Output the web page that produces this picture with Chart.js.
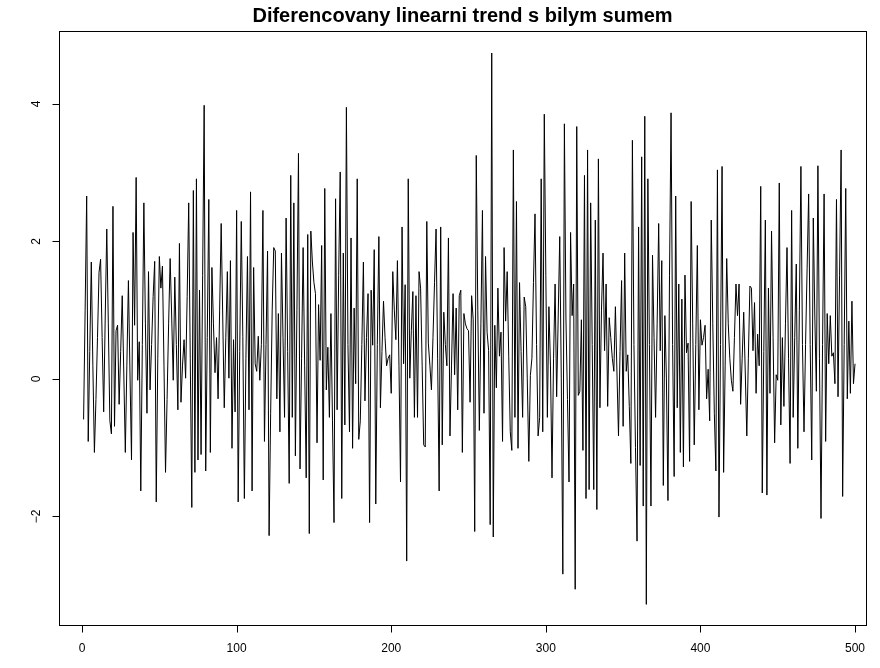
<!DOCTYPE html>
<html>
<head>
<meta charset="utf-8">
<script src="https://cdn.jsdelivr.net/npm/chart.js@4.4.0/dist/chart.umd.min.js"></script>
<style>
  html, body { margin: 0; padding: 0; background: #fff; }
  canvas { display: block; }
</style>
</head>
<body>
<canvas id="chart" width="880" height="668"></canvas>
<script>
"use strict";

const title = "Diferencovany linearni trend s bilym sumem";
const xTicks = [0, 100, 200, 300, 400, 500];
const yTicks = [-2, 0, 2, 4];

// series, in blocks of 50 points
const s001 = [-0.59, 1.0, 2.66, -0.91, 0.4, 1.70, 0.2, -1.07, -0.3, 0.6,
  1.55, 1.74, 0.6, -0.48, 0.9, 2.18, 0.8, -0.61, -0.80, 2.51,
  -0.69, 0.70, 0.78, -0.37, 0.4, 1.21, 0.1, -1.07, 0.2, 1.43,
  0.1, -1.18, 2.13, 0.78, 2.93, -0.02, 0.54, -1.63, 0.5, 2.56,
  0.8, -0.50, 1.56, -0.16, 0.5, 1.2, 1.71, -1.79, 0.3, 1.78];
const s051 = [1.32, 1.64, 0.2, -1.36, -0.3, 0.8, 1.75, 0.9, -0.02, 1.48,
  0.5, -0.45, 1.97, -0.34, 0.2, 0.57, 0.01, 1.2, 2.56, 0.3,
  -1.87, 2.74, -1.36, 2.91, -1.18, 1.29, -1.10, 1.5, 3.98, -1.34,
  0.6, 2.61, -1.07, 1.62, 0.8, 0.09, 0.60, -0.29, 1.0, 2.26,
  0.9, -0.42, 0.6, 1.56, 0.01, 1.72, -1.01, 0.57, -0.48, 2.45];
const s101 = [-1.79, 0.4, 2.29, 0.62, -1.74, 0.3, 1.78, -0.45, 2.72, -1.63,
  1.62, 0.22, 0.11, 0.62, -0.02, 0.5, 2.45, -0.91, 0.5, 1.86,
  -2.28, -0.5, 1.0, 1.91, 1.86, -0.29, 0.95, -0.77, 1.83, 0.6,
  -0.56, 2.34, 0.4, -1.52, 2.96, -0.56, 2.56, -1.12, 1.0, 3.28,
  -1.31, 0.3, 1.91, 0.2, -1.44, 2.10, -2.25, 2.15, 1.7, 1.4];
const s151 = [1.24, -0.93, 1.08, 0.27, 1.94, -1.47, 2.77, -0.16, 0.46, -0.56,
  0.95, -0.6, -2.09, 2.62, -0.45, 1.5, 3.01, -1.74, 1.83, -0.67,
  3.95, 0.5, -0.77, 2.05, -1.01, 1.03, -0.07, 2.91, -0.88, -0.61,
  0.5, 1.70, -0.32, 0.6, 1.24, -2.09, 1.29, 0.49, 1.88, -1.82,
  0.5, 2.07, -0.42, 0.4, 1.13, 0.6, 0.19, 0.3, 0.35, -0.21];
const s201 = [1.56, 1.0, 0.57, 1.72, 0.2, -1.50, 2.21, 0.22, 1.37, -2.65,
  2.91, 0.01, 0.7, 1.27, -0.56, 1.21, -0.56, 1.56, 1.32, 0.2,
  -0.96, -0.99, 2.29, 0.52, 0.2, -0.16, 0.6, 1.4, 2.18, 0.3,
  -1.63, 2.21, -0.96, 0.97, 0.5, 0.19, 2.05, -0.83, 0.2, 1.24,
  0.06, 1.03, -0.45, 1.21, 1.29, -1.07, 0.95, 0.8, 0.73, 0.70];
const s251 = [-0.34, 1.21, 0.87, -2.22, 3.25, 1.0, -0.75, 0.8, 2.45, -0.50,
  1.78, 0.68, 0.41, -2.12, 4.74, -2.30, 0.78, -0.13, 1.32, 0.33,
  0.68, -0.91, 1.91, 0.84, 1.56, 0.33, -0.77, -1.04, 3.33, -0.56,
  2.58, -1.01, 1.40, 0.4, -0.56, 1.19, 1.05, 0.0, -1.20, 0.05,
  0.30, 1.4, 2.40, 0.5, -0.83, -0.56, 2.91, -0.77, 3.85, 1.5];
const s301 = [-0.56, 1.05, 0.2, -1.44, 0.3, 1.38, -0.26, 0.9, 2.07, 0.0,
  -2.84, 3.71, 0.9, -0.3, -1.50, 2.13, 0.92, 1.38, -3.06, 3.67,
  -0.24, -0.18, 0.86, -1.04, 2.96, -1.74, 3.33, -1.61, 2.56, 0.5,
  -1.61, 2.31, -1.9, 3.20, -0.42, 1.0, 1.83, 0.41, 1.38, -0.40,
  0.89, 0.6, 0.3, 0.11, 1.05, 0.1, -0.83, 0.4, 1.43, -0.69];
const s351 = [1.83, 0.11, 0.35, -0.4, -1.23, 3.47, 0.5, -1.0, -2.36, 2.21,
  -1.26, 3.23, -1.85, 3.82, -3.28, 2.91, 0.5, -1.85, 1.80, 0.6,
  -0.56, 0.8, 2.26, 0.41, 1.72, -1.55, 0.92, 0.0, -1.77, 1.5,
  3.87, 0.5, -1.42, 2.66, -0.42, 1.38, -1.07, 1.16, -1.28, 1.51,
  0.38, 0.52, -1.20, 2.58, 0.8, -0.96, 0.5, 1.94, -0.45, 0.86];
const s401 = [0.49, 0.6, 0.78, -0.29, 0.14, -0.61, 2.31, 0.8, -0.5, -1.34,
  3.04, -2.01, 0.5, 3.09, -1.36, 0.2, 1.75, 0.8, 0.3, -0.02,
  -0.18, 0.6, 1.38, 0.92, 1.38, -0.37, 0.3, 0.97, 0.1, -0.83,
  0.3, 1.35, 1.32, 0.41, 1.11, -0.21, 0.65, 0.19, 2.80, -1.66,
  0.4, 2.31, -1.69, 1.32, -0.21, 2.15, 0.6, -0.93, 0.06, -0.02];
const s451 = [2.85, -0.67, 0.60, -0.40, 0.8, 1.91, 0.3, -1.23, 2.45, -0.56,
  0.6, 1.67, -1.01, 1.0, 3.09, 0.5, -0.77, 0.5, 1.6, 2.69,
  0.5, -1.18, 2.34, 0.9, -0.18, 3.10, 0.3, -2.03, 0.5, 2.69,
  -0.91, 0.95, 0.22, 0.92, 0.33, 0.38, -0.07, 2.61, -0.26, 1.5,
  3.33, -1.71, 0.5, 2.77, -0.29, 0.84, -0.21, 1.13, -0.07, 0.22];

const values = [].concat(s001, s051, s101, s151, s201, s251, s301, s351, s401, s451);
const points = values.map((v, i) => ({ x: i + 1, y: v }));

const FONT = "'Liberation Sans', Arial, Helvetica, sans-serif";

// base-graphics look: box, outward ticks, rotated y labels, bold title
const rAxes = {
  id: "rAxes",
  afterDraw(chart) {
    const { ctx, chartArea: a, scales } = chart;
    const xs = scales.x, ys = scales.y;
    ctx.save();
    ctx.strokeStyle = "#000";
    ctx.lineWidth = 1;
    ctx.strokeRect(Math.round(a.left) + 0.5, Math.round(a.top) + 0.5,
      Math.round(a.right - a.left), Math.round(a.bottom - a.top));

    ctx.fillStyle = "#000";
    ctx.font = "12px " + FONT;
    ctx.beginPath();
    const yb = Math.round(a.bottom) + 0.5;
    for (const t of xTicks) {
      const px = Math.round(xs.getPixelForValue(t)) + 0.5;
      ctx.moveTo(px, yb);
      ctx.lineTo(px, yb + 7);
    }
    const xl = Math.round(a.left) + 0.5;
    for (const t of yTicks) {
      const py = Math.round(ys.getPixelForValue(t)) + 0.5;
      ctx.moveTo(xl, py);
      ctx.lineTo(xl - 7, py);
    }
    ctx.stroke();

    ctx.textAlign = "center";
    ctx.textBaseline = "middle";
    for (const t of xTicks) {
      ctx.fillText(String(t), xs.getPixelForValue(t), a.bottom + 24);
    }
    for (const t of yTicks) {
      ctx.save();
      ctx.translate(a.left - 22, ys.getPixelForValue(t));
      ctx.rotate(-Math.PI / 2);
      ctx.fillText(t < 0 ? "\u2212" + Math.abs(t) : String(t), 0, 0);
      ctx.restore();
    }

    ctx.font = "bold 20px " + FONT;
    ctx.fillText(title, (a.left + a.right) / 2, 16.5);
    ctx.restore();
  },
};

new Chart(document.getElementById("chart"), {
  type: "line",
  data: {
    datasets: [{
      data: points,
      borderColor: "#000",
      borderWidth: 1,
      pointRadius: 0,
      tension: 0,
      fill: false,
    }],
  },
  options: {
    responsive: false,
    animation: false,
    events: [],
    layout: { padding: { left: 59, top: 31, right: 14, bottom: 43 } },
    plugins: { legend: { display: false }, tooltip: { enabled: false } },
    scales: {
      x: { type: "linear", display: false, min: -14.9, max: 507.1 },
      y: { type: "linear", display: false, min: -3.58, max: 5.06 },
    },
  },
  plugins: [rAxes],
});
</script>
</body>
</html>
